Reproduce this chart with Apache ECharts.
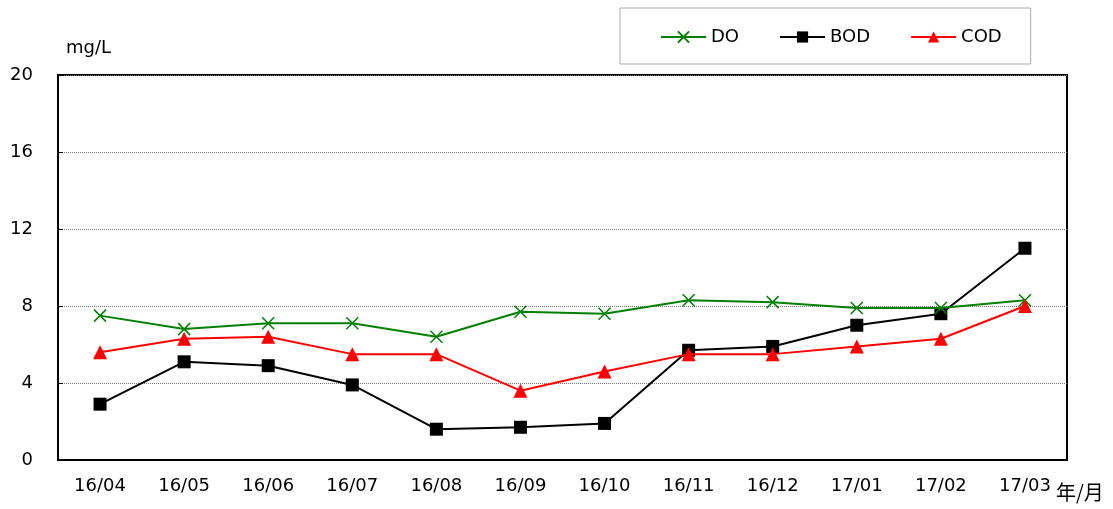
<!DOCTYPE html>
<html>
<head>
<meta charset="utf-8">
<script src="https://cdn.jsdelivr.net/npm/echarts@6/dist/echarts.min.js"></script>
<style>
  html, body { margin: 0; padding: 0; background: #fff; }
  #chart { width: 1113px; height: 509px; }
</style>
</head>
<body>
<div id="chart"></div>
<script>
const months = ["16/04", "16/05", "16/06", "16/07", "16/08", "16/09", "16/10", "16/11", "16/12", "17/01", "17/02", "17/03"];
const doValues = [7.5, 6.8, 7.1, 7.1, 6.4, 7.7, 7.6, 8.3, 8.2, 7.9, 7.9, 8.3];
const bodValues = [2.9, 5.1, 4.9, 3.9, 1.6, 1.7, 1.9, 5.7, 5.9, 7.0, 7.6, 11.0];
const codValues = [5.6, 6.3, 6.4, 5.5, 5.5, 3.6, 4.6, 5.5, 5.5, 5.9, 6.3, 8.0];
const yTicks = [0, 4, 8, 12, 16, 20];

const font = '"DejaVu Sans", "Noto Sans CJK JP", sans-serif';
const cjkFont = '"Noto Sans CJK JP", sans-serif';
const chart = echarts.init(document.getElementById("chart"));

const option = {
  backgroundColor: "#fff",
  animation: false,
  textStyle: { fontFamily: font },
  legend: {
    left: 620,
    top: 8,
    padding: [20, 29, 18, 40],
    itemGap: 40,
    itemWidth: 45,
    itemHeight: 14,
    borderColor: "#aaa",
    borderWidth: 1,
    textStyle: { fontSize: 18, color: "#000", fontFamily: font },
    data: ["DO", "BOD", "COD"]
  },
  graphic: [
    { type: "text", left: 66, top: 39, style: { text: "mg/L", font: "18px " + font, fill: "#000" } },
    { type: "text", left: 1056, top: 482, style: { text: "年/月", font: "20px " + cjkFont, fill: "#000" } }
  ],
  grid: {
    left: 58,
    right: 46,
    top: 75,
    bottom: 49,
    show: true,
    borderColor: "#000",
    borderWidth: 2,
    backgroundColor: "transparent"
  },
  xAxis: {
    type: "category",
    data: months,
    boundaryGap: true,
    axisLine: { lineStyle: { color: "#000", width: 2 } },
    axisTick: { inside: true, length: 6, lineStyle: { color: "#000", width: 1 } },
    axisLabel: { color: "#000", fontSize: 18, margin: 17, fontFamily: font }
  },
  yAxis: {
    type: "value",
    min: yTicks[0],
    max: yTicks[yTicks.length - 1],
    interval: 4,
    axisLine: { show: true, lineStyle: { color: "#000", width: 2 } },
    axisTick: { show: true, inside: true, length: 5, lineStyle: { color: "#000" } },
    axisLabel: { color: "#000", fontSize: 18, margin: 25, fontFamily: font },
    splitLine: { lineStyle: { color: "#777", type: [1, 1], width: 1 } }
  },
  series: [
    {
      name: "DO",
      type: "line",
      data: doValues,
      symbol: "path://M0,0L10,10M10,0L0,10",
      symbolSize: 12,
      z: 3,
      lineStyle: { color: "#008000", width: 2 },
      itemStyle: { color: "#008000", borderColor: "#008000", borderWidth: 1.5 }
    },
    {
      name: "BOD",
      type: "line",
      data: bodValues,
      symbol: "rect",
      symbolSize: 13,
      z: 2,
      lineStyle: { color: "#000", width: 2 },
      itemStyle: { color: "#000", borderWidth: 0 }
    },
    {
      name: "COD",
      type: "line",
      data: codValues,
      symbol: "triangle",
      symbolSize: 14,
      z: 4,
      lineStyle: { color: "#ff0000", width: 2 },
      itemStyle: { color: "#ff0000", borderWidth: 0 }
    }
  ]
};

chart.setOption(option);
</script>
</body>
</html>
